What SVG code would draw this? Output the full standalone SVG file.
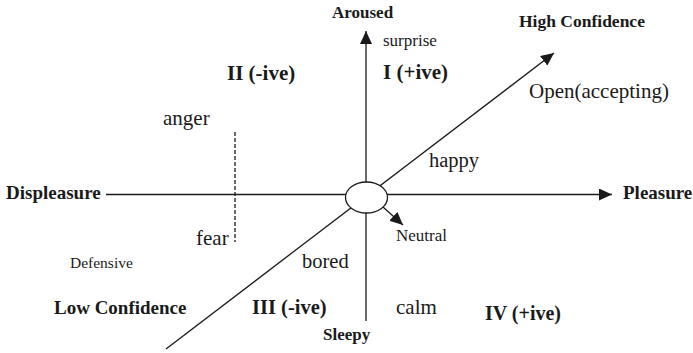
<svg xmlns="http://www.w3.org/2000/svg" width="693" height="353" viewBox="0 0 693 353">
<style>
text{font-family:"Liberation Serif","Times New Roman",serif;fill:#1a1a1a}
.b{font-weight:bold}
.ax{stroke:#1a1a1a;stroke-width:1.3;fill:none}
</style>
<defs>
<marker id="ah" markerWidth="13" markerHeight="12" refX="13" refY="6" orient="auto" markerUnits="userSpaceOnUse" viewBox="0 0 13 12">
<path d="M0,0 L13,6 L0,12 Z" fill="#1a1a1a"/>
</marker>
</defs>
<rect width="693" height="353" fill="#fff"/>
<g id="connectors">
<line class="ax" x1="366" y1="321" x2="366" y2="31" marker-end="url(#ah)"/>
<line class="ax" x1="106" y1="194.5" x2="612" y2="194.5" marker-end="url(#ah)"/>
<line class="ax" x1="166" y1="349" x2="554" y2="53" marker-end="url(#ah)"/>
<line class="ax" x1="383" y1="207" x2="403" y2="225" marker-end="url(#ah)"/>
<line class="ax" x1="235" y1="132" x2="235" y2="242" stroke-dasharray="4,2"/>
</g>
<g id="center"><ellipse cx="366.5" cy="197.5" rx="21" ry="15.5" fill="#fff" stroke="#1a1a1a" stroke-width="1.3"/></g>
<g id="aroused"><text class="b" x="332" y="18" font-size="17">Aroused</text></g>
<g id="surprise"><text x="383" y="46" font-size="17">surprise</text></g>
<g id="q1"><text class="b" x="383" y="79" font-size="21">I (+ive)</text></g>
<g id="q2"><text class="b" x="227" y="80" font-size="21">II (-ive)</text></g>
<g id="highconf"><text class="b" x="519" y="27" font-size="17.5">High Confidence</text></g>
<g id="open"><text x="529" y="98" font-size="21">Open(accepting)</text></g>
<g id="anger"><text x="163" y="125" font-size="21">anger</text></g>
<g id="happy"><text x="429" y="167" font-size="20.5">happy</text></g>
<g id="displeasure"><text class="b" x="6" y="199" font-size="19">Displeasure</text></g>
<g id="pleasure"><text class="b" x="623" y="199" font-size="19">Pleasure</text></g>
<g id="neutral"><text x="396" y="241" font-size="17">Neutral</text></g>
<g id="fear"><text x="196" y="245" font-size="21">fear</text></g>
<g id="defensive"><text x="70" y="268" font-size="15.5">Defensive</text></g>
<g id="bored"><text x="302" y="268" font-size="20.5">bored</text></g>
<g id="lowconf"><text class="b" x="54" y="314" font-size="19">Low Confidence</text></g>
<g id="q3"><text class="b" x="252" y="314" font-size="20.5">III (-ive)</text></g>
<g id="calm"><text x="396" y="314" font-size="21">calm</text></g>
<g id="q4"><text class="b" x="485" y="320" font-size="20">IV (+ive)</text></g>
<g id="sleepy"><text class="b" x="323" y="340" font-size="17">Sleepy</text></g>
</svg>
